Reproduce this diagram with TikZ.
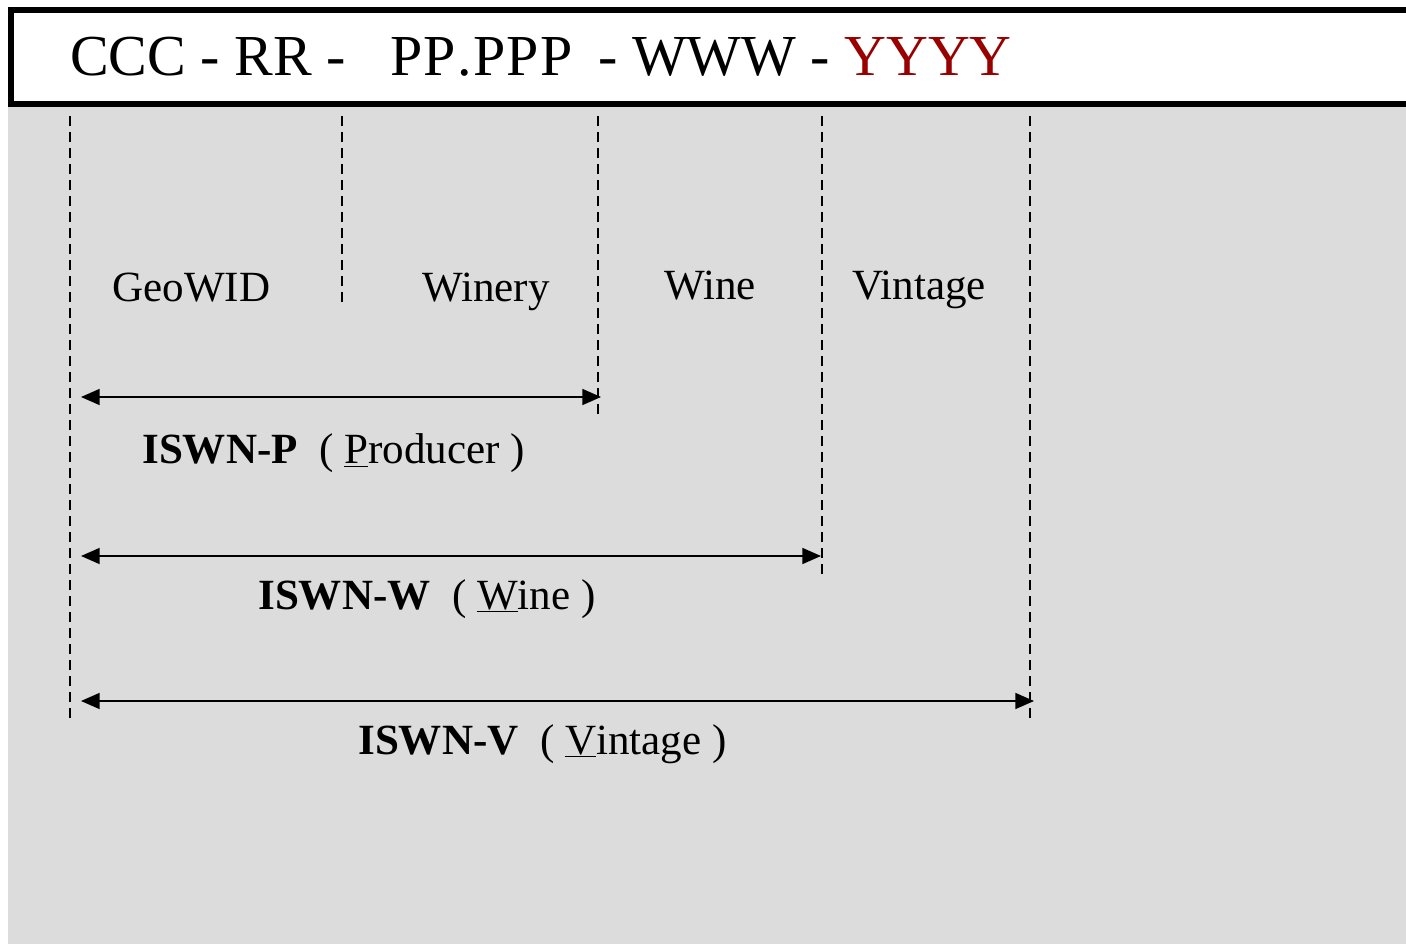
\documentclass[tikz,border=0pt]{standalone}
\usepackage{fontspec}
\setmainfont{Liberation Serif}
\usetikzlibrary{arrows.meta}
\definecolor{bggray}{HTML}{DCDCDC}
\definecolor{darkred}{HTML}{990000}
\tikzset{
  lbl/.style={anchor=base west, inner sep=0pt, font=\fontsize{32.3}{37}\selectfont},
  hdr/.style={anchor=base west, inner sep=0pt, font=\fontsize{43.5}{50}\selectfont},
  divider/.style={line width=2.1pt, dash pattern=on 7.5pt off 4.5pt},
  span/.style={line width=1.2pt, {Triangle[length=14pt,width=12pt]}-{Triangle[length=14pt,width=12pt]}}
}
\newcommand{\ulet}[1]{\underline{#1}}
\begin{document}
\begin{tikzpicture}[x=0.75pt,y=-0.75pt]
\useasboundingbox (0,0) rectangle (1406,944);
\clip (0,0) rectangle (1406,944);
\fill[bggray] (8,105) rectangle (1406,944);
\draw[line width=3.8pt, fill=white] (11,10) rectangle (1420,104);
% header
\node[hdr] (h1) at (70,76) {CCC - RR -};
\node[hdr] (h2) at (390,76) {P\kern1ptP\kern1pt.\kern1ptP\kern1ptP\kern1ptP};
\node[hdr] (h3) at (598,76) {- WWW -};
\node[hdr, text=darkred] (h4) at (844,76) {YYYY};
% dividers
\draw[divider] (70,116) -- (70,724);
\draw[divider] (342,116) -- (342,308);
\draw[divider] (598,116) -- (598,420);
\draw[divider] (822,116) -- (822,576);
\draw[divider] (1030,116) -- (1030,724);
% field labels
\node[lbl] (geo) at (112,302) {GeoWID};
\node[lbl] (winery) at (422,302) {Winery};
\node[lbl] (wine) at (664,300) {Wine};
\node[lbl] (vint) at (852,300) {Vintage};
% arrow end coordinates
\coordinate (pL) at (81,397);
\coordinate (pR) at (601,397);
\coordinate (wL) at (81,556);
\coordinate (wR) at (821,556);
\coordinate (vL) at (81,701);
\coordinate (vR) at (1034,701);
\draw[span] (pL) -- (pR);
\draw[span] (wL) -- (wR);
\draw[span] (vL) -- (vR);
% span labels
\node[lbl] (isp) at (142,464) {\textbf{ISWN-P}\ \ ( \ulet{P}roducer )};
\node[lbl] (isw) at (258,609) {\textbf{ISWN-W}\ \ ( \ulet{W}ine )};
\node[lbl] (isv) at (358,754) {\textbf{ISWN-V}\ \ ( \ulet{V}intage )};
\end{tikzpicture}
\end{document}
